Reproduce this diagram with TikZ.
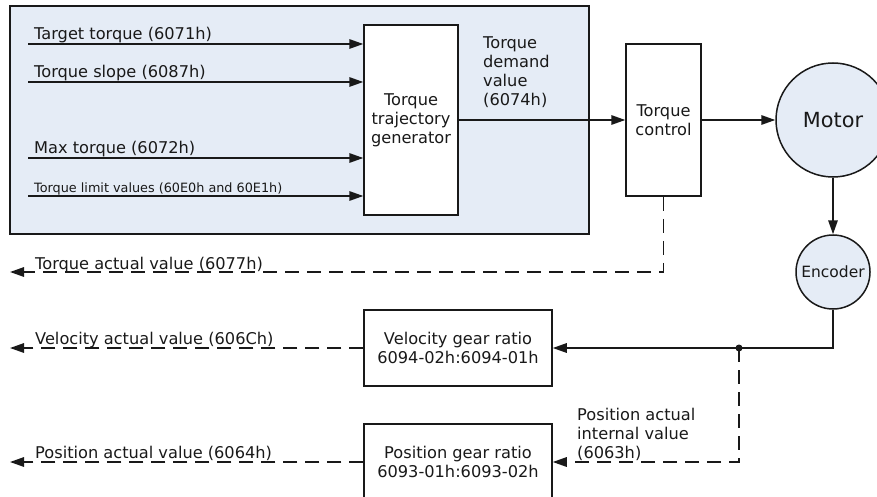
\documentclass[tikz,border=0pt]{standalone}
\usepackage{fontspec}
\setmainfont{DejaVu Sans}
\usetikzlibrary{arrows.meta}
\definecolor{paleblue}{RGB}{229,236,246}
\definecolor{ink}{RGB}{25,25,25}
\begin{document}
\begin{tikzpicture}[x=1pt,y=-1pt,
  every node/.style={text=ink, font=\fontsize{16.2}{19}\selectfont},
  ln/.style={draw=ink, line width=1.5pt},
  arr/.style={ln, -{Triangle[length=14pt,width=9.5pt]}},
  dsh/.style={dash pattern=on 14pt off 8pt},
  blk/.style={draw=ink, line width=1.5pt, fill=white, inner sep=0pt, align=center},
  circ/.style={draw=ink, line width=1.5pt, fill=paleblue, circle, inner sep=0pt},
  lab/.style={anchor=base west, inner sep=0pt},
  smalllab/.style={anchor=base west, inner sep=0pt, font=\fontsize{12.8}{15}\selectfont}
]
\useasboundingbox (0,0) rectangle (877,497);
% background group
\node[draw=ink, line width=1.5pt, fill=paleblue, minimum width=579pt, minimum height=228pt, inner sep=0pt] (grp) at (299.5,120) {};
% blocks
\node[blk, minimum width=94pt, minimum height=190pt] (ttg) at (411,120) {Torque\\trajectory\\generator};
\node[blk, minimum width=75pt, minimum height=152pt] (tc) at (663.5,120) {Torque\\control};
\node[circ, minimum size=114pt] (motor) at (833,120) {};
\node[font=\fontsize{20.8}{24}\selectfont] at (motor) {Motor};
\node[circ, minimum size=74pt] (enc) at (833,272) {};
\node[font=\fontsize{15.5}{19}\selectfont] at (enc) {Encoder};
\node[blk, minimum width=188pt, minimum height=76pt] (vg) at (458,348) {Velocity gear ratio\\6094-02h:6094-01h};
\node[blk, minimum width=188pt, minimum height=76pt] (pg) at (458,462) {Position gear ratio\\6093-01h:6093-02h};
% inputs
\coordinate (i1) at (28,44);
\coordinate (i2) at (28,82);
\coordinate (i3) at (28,158);
\coordinate (i4) at (28,196);
\draw[arr] (i1) -- (i1 -| ttg.west);
\draw[arr] (i2) -- (i2 -| ttg.west);
\draw[arr] (i3) -- (i3 -| ttg.west);
\draw[arr] (i4) -- (i4 -| ttg.west);
\node[lab] (l1) at (34,40) {Target torque (6071h)};
\node[lab] (l2) at (34,78) {Torque slope (6087h)};
\node[lab] (l3) at (34,154) {Max torque (6072h)};
\node[smalllab] (l4) at (34,193) {Torque limit values (60E0h and 60E1h)};
% demand
\draw[arr] (ttg.east) -- (tc.west);
\node[lab, align=left] (tdv) at (483,106) {Torque\\demand\\value\\(6074h)};
\draw[arr] (tc.east) -- (motor.west);
\draw[arr] (motor.south) -- (enc.north);
% feedback
\coordinate (dot) at (739,348);
\draw[arr] (enc.south) |- (vg.east);
\fill[ink] (dot) circle (3.5pt);
\draw[arr, dsh] (dot) |- (pg.east);
\node[lab, align=left] (paiv) at (577,458) {Position actual\\internal value\\(6063h)};
% outputs
\coordinate (ta) at (10,272);
\coordinate (va) at (10,348);
\coordinate (pa) at (10,462);
\draw[arr, dsh] (tc.south) |- (ta);
\draw[arr, dsh] (vg.west) -- (va);
\draw[arr, dsh] (pg.west) -- (pa);
\node[lab] (o1) at (35,269) {Torque actual value (6077h)};
\node[lab] (o2) at (35,344) {Velocity actual value (606Ch)};
\node[lab] (o3) at (35,458) {Position actual value (6064h)};
\end{tikzpicture}
\end{document}
